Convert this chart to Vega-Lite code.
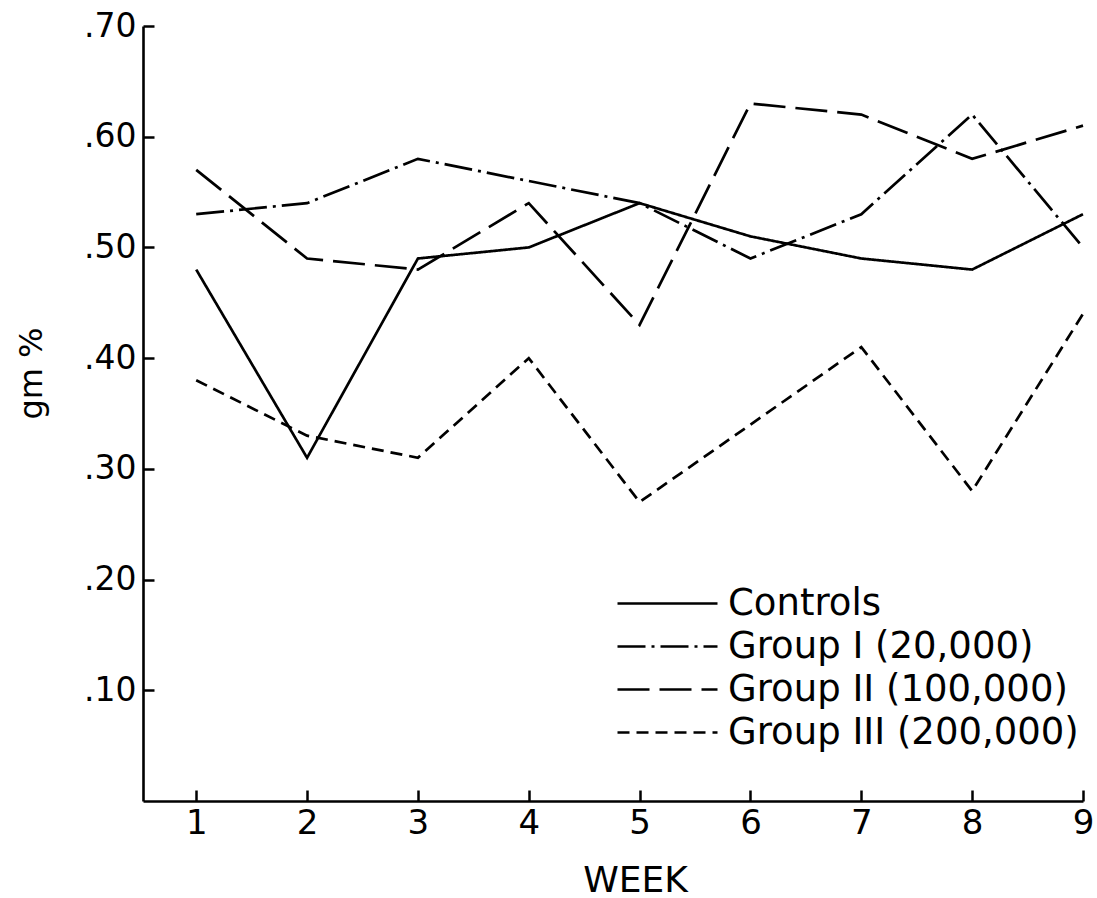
{
  "$schema": "https://vega.github.io/schema/vega-lite/v6.json",
  "width": 940,
  "height": 775,
  "autosize": {"type": "none"},
  "padding": {"left": 143, "top": 26, "right": 14, "bottom": 97},
  "background": "white",
  "config": {"view": {"stroke": null}, "font": "DejaVu Sans"},
  "data": {
    "values": [
      {"week": 1, "group": "Controls", "value": 0.48},
      {"week": 2, "group": "Controls", "value": 0.31},
      {"week": 3, "group": "Controls", "value": 0.49},
      {"week": 4, "group": "Controls", "value": 0.50},
      {"week": 5, "group": "Controls", "value": 0.54},
      {"week": 6, "group": "Controls", "value": 0.51},
      {"week": 7, "group": "Controls", "value": 0.49},
      {"week": 8, "group": "Controls", "value": 0.48},
      {"week": 9, "group": "Controls", "value": 0.53},
      {"week": 1, "group": "Group I (20,000)", "value": 0.53},
      {"week": 2, "group": "Group I (20,000)", "value": 0.54},
      {"week": 3, "group": "Group I (20,000)", "value": 0.58},
      {"week": 4, "group": "Group I (20,000)", "value": 0.56},
      {"week": 5, "group": "Group I (20,000)", "value": 0.54},
      {"week": 6, "group": "Group I (20,000)", "value": 0.49},
      {"week": 7, "group": "Group I (20,000)", "value": 0.53},
      {"week": 8, "group": "Group I (20,000)", "value": 0.62},
      {"week": 9, "group": "Group I (20,000)", "value": 0.50},
      {"week": 1, "group": "Group II (100,000)", "value": 0.57},
      {"week": 2, "group": "Group II (100,000)", "value": 0.49},
      {"week": 3, "group": "Group II (100,000)", "value": 0.48},
      {"week": 4, "group": "Group II (100,000)", "value": 0.54},
      {"week": 5, "group": "Group II (100,000)", "value": 0.43},
      {"week": 6, "group": "Group II (100,000)", "value": 0.63},
      {"week": 7, "group": "Group II (100,000)", "value": 0.62},
      {"week": 8, "group": "Group II (100,000)", "value": 0.58},
      {"week": 9, "group": "Group II (100,000)", "value": 0.61},
      {"week": 1, "group": "Group III (200,000)", "value": 0.38},
      {"week": 2, "group": "Group III (200,000)", "value": 0.33},
      {"week": 3, "group": "Group III (200,000)", "value": 0.31},
      {"week": 4, "group": "Group III (200,000)", "value": 0.40},
      {"week": 5, "group": "Group III (200,000)", "value": 0.27},
      {"week": 6, "group": "Group III (200,000)", "value": 0.34},
      {"week": 7, "group": "Group III (200,000)", "value": 0.41},
      {"week": 8, "group": "Group III (200,000)", "value": 0.28},
      {"week": 9, "group": "Group III (200,000)", "value": 0.44}
    ]
  },
  "mark": {"type": "line", "strokeWidth": 2.7, "color": "black", "strokeCap": "butt", "strokeJoin": "miter"},
  "encoding": {
    "x": {
      "field": "week",
      "type": "quantitative",
      "scale": {"domain": [0.52, 9], "nice": false, "zero": false},
      "axis": {
        "title": "WEEK",
        "titleFont": "DejaVu Sans",
        "titleFontSize": 36,
        "titleFontWeight": "normal",
        "titleColor": "black",
        "titleX": 492,
        "titleY": 79,
        "titleAlign": "center",
        "titleBaseline": "middle",
        "values": [1, 2, 3, 4, 5, 6, 7, 8, 9],
        "format": "d",
        "labelFont": "DejaVu Sans",
        "labelFontSize": 34,
        "labelColor": "black",
        "labelPadding": 16,
        "labelFlush": false,
        "labelOverlap": false,
        "tickSize": -11,
        "tickWidth": 2.5,
        "tickColor": "black",
        "domainColor": "black",
        "domainWidth": 2.6,
        "grid": false
      }
    },
    "y": {
      "field": "value",
      "type": "quantitative",
      "scale": {"domain": [0, 0.7], "nice": false},
      "axis": {
        "title": "gm %",
        "titleFont": "DejaVu Sans",
        "titleFontSize": 32,
        "titleFontWeight": "normal",
        "titleColor": "black",
        "titleAngle": -90,
        "titleX": -112,
        "titleY": 347,
        "titleAlign": "center",
        "titleBaseline": "middle",
        "values": [0.1, 0.2, 0.3, 0.4, 0.5, 0.6, 0.7],
        "labelExpr": "replace(format(datum.value, '.2f'), '0.', '.')",
        "labelFont": "DejaVu Sans",
        "labelFontSize": 33,
        "labelColor": "black",
        "labelPadding": 18,
        "labelFlush": false,
        "labelOverlap": false,
        "tickSize": -11,
        "tickWidth": 2.5,
        "tickColor": "black",
        "domainColor": "black",
        "domainWidth": 2.6,
        "grid": false
      }
    },
    "strokeDash": {
      "field": "group",
      "type": "nominal",
      "scale": {
        "domain": ["Controls", "Group I (20,000)", "Group II (100,000)", "Group III (200,000)"],
        "range": [[1, 0], [28, 6, 3, 6], [32, 10], [12, 7]]
      },
      "legend": {
        "title": null,
        "orient": "none",
        "legendX": 506,
        "legendY": 559,
        "padding": 0,
        "symbolType": "M-5,0H5",
        "symbolSize": 400,
        "symbolStrokeWidth": 2.6,
        "symbolStrokeColor": "black",
        "labelFont": "DejaVu Sans",
        "labelFontSize": 37,
        "labelColor": "black",
        "labelOffset": 42,
        "labelLimit": 0,
        "rowPadding": 5
      }
    }
  }
}
